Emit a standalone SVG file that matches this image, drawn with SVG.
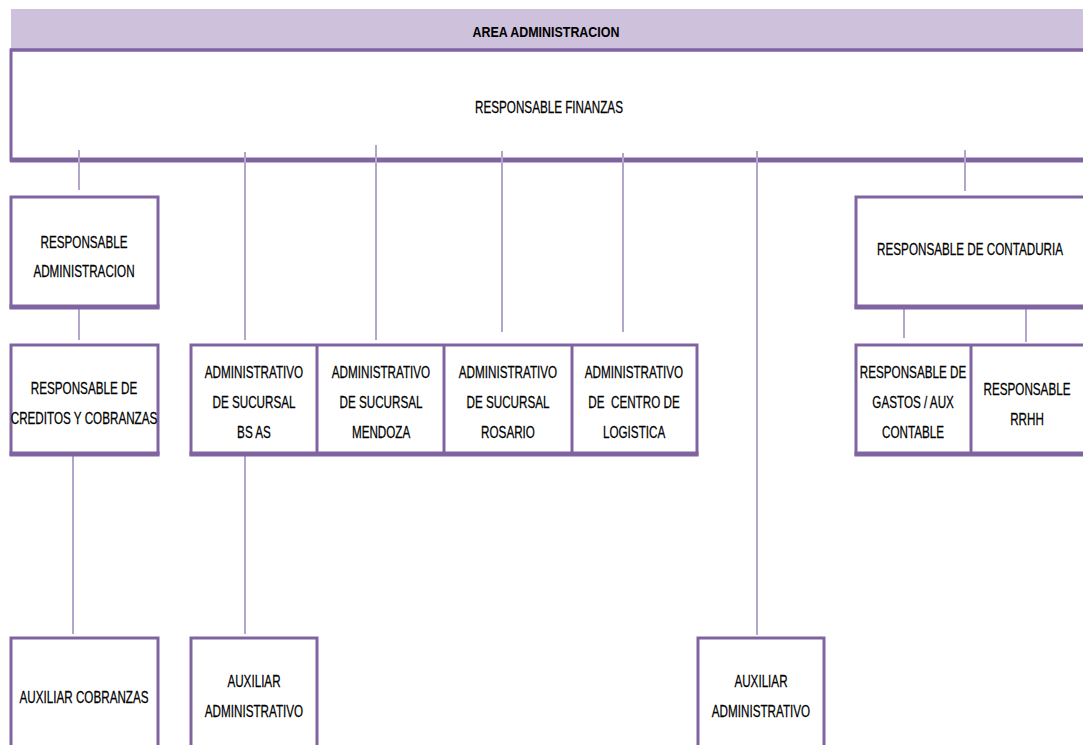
<svg xmlns="http://www.w3.org/2000/svg" width="1083" height="745" viewBox="0 0 1083 745">
  <style>
    .box { fill: #ffffff; stroke: #8064a2; stroke-width: 3; }
    .base { stroke: #8064a2; stroke-width: 5; }
    .div { stroke: #8064a2; stroke-width: 3; }
    .link { stroke: #b4a5cb; stroke-width: 2; fill: none; }
    text { font-family: "Liberation Sans", Arial, sans-serif; font-size: 16px; fill: #000000; stroke: #000000; stroke-width: 0.25;
           text-anchor: middle; transform-box: fill-box; transform-origin: center; transform: scaleX(0.73); }
    .bold { font-weight: bold; font-size: 15px; stroke-width: 0; transform: scaleX(0.83); }
  </style>
  <rect width="1083" height="745" fill="#ffffff"/>

  <!-- header band -->
  <g id="header">
    <rect x="11" y="9" width="1080" height="40" fill="#cec1dc"/>
    <text class="bold" x="546" y="37">AREA ADMINISTRACION</text>
  </g>

  <!-- top box -->
  <g id="finanzas">
    <rect x="11" y="50" width="1080" height="110" class="box" stroke-width="2"/>
    <line x1="10" y1="50" x2="1083" y2="50" class="div"/>
    <line x1="10" y1="160" x2="1083" y2="160" class="base" stroke-width="4"/>
    <text x="549" y="113">RESPONSABLE FINANZAS</text>
  </g>

  <!-- connectors -->
  <g id="connectors">
    <line x1="79" y1="150" x2="79" y2="190" class="link"/>
    <line x1="245" y1="152" x2="245" y2="340" class="link"/>
    <line x1="376" y1="145" x2="376" y2="340" class="link"/>
    <line x1="502" y1="151" x2="502" y2="332" class="link"/>
    <line x1="623" y1="153" x2="623" y2="332" class="link"/>
    <line x1="757" y1="151" x2="757" y2="635" class="link"/>
    <line x1="965" y1="150" x2="965" y2="191" class="link"/>
    <line x1="79" y1="300" x2="79" y2="340" class="link"/>
    <line x1="73" y1="445" x2="73" y2="634" class="link"/>
    <line x1="245" y1="445" x2="245" y2="634" class="link"/>
    <line x1="904" y1="298" x2="904" y2="338" class="link"/>
    <line x1="1026" y1="302" x2="1026" y2="342" class="link"/>
  </g>

  <g id="resp-admin">
    <rect x="11" y="197" width="147" height="110" class="box"/>
    <line x1="9.5" y1="307" x2="159.5" y2="307" class="base"/>
    <text x="84" y="248">RESPONSABLE</text>
    <text x="84" y="277">ADMINISTRACION</text>
  </g>

  <g id="creditos">
    <rect x="11" y="345" width="147" height="109" class="box"/>
    <line x1="9.5" y1="454" x2="159.5" y2="454" class="base"/>
    <text x="84" y="394">RESPONSABLE DE</text>
    <text x="84" y="424">CREDITOS Y COBRANZAS</text>
  </g>

  <g id="sucursales">
    <rect x="191" y="345" width="506" height="109" class="box"/>
    <line x1="189.5" y1="454" x2="698.5" y2="454" class="base"/>
    <line x1="317" y1="345" x2="317" y2="454" class="div"/>
    <line x1="444" y1="345" x2="444" y2="454" class="div"/>
    <line x1="572" y1="345" x2="572" y2="454" class="div"/>
    <text x="254" y="378">ADMINISTRATIVO</text>
    <text x="254" y="408">DE SUCURSAL</text>
    <text x="254" y="438">BS AS</text>
    <text x="381" y="378">ADMINISTRATIVO</text>
    <text x="381" y="408">DE SUCURSAL</text>
    <text x="381" y="438">MENDOZA</text>
    <text x="508" y="378">ADMINISTRATIVO</text>
    <text x="508" y="408">DE SUCURSAL</text>
    <text x="508" y="438">ROSARIO</text>
    <text x="634" y="378">ADMINISTRATIVO</text>
    <text x="634" y="408" xml:space="preserve">DE  CENTRO DE</text>
    <text x="634" y="438">LOGISTICA</text>
  </g>

  <g id="contaduria">
    <rect x="856" y="197" width="240" height="110" class="box"/>
    <line x1="854.5" y1="307" x2="1083" y2="307" class="base"/>
    <text x="970" y="255">RESPONSABLE DE CONTADURIA</text>
  </g>

  <g id="gastos-rrhh">
    <rect x="856" y="345" width="240" height="109" class="box"/>
    <line x1="854.5" y1="454" x2="1083" y2="454" class="base"/>
    <line x1="971" y1="345" x2="971" y2="454" class="div"/>
    <text x="913" y="378">RESPONSABLE DE</text>
    <text x="913" y="408">GASTOS / AUX</text>
    <text x="913" y="438">CONTABLE</text>
    <text x="1027" y="395">RESPONSABLE</text>
    <text x="1027" y="425">RRHH</text>
  </g>

  <g id="aux-cobranzas">
    <rect x="11" y="638" width="147" height="120" class="box"/>
    <text x="84" y="703">AUXILIAR COBRANZAS</text>
  </g>

  <g id="aux-admin-1">
    <rect x="191" y="638" width="126" height="120" class="box"/>
    <text x="254" y="687">AUXILIAR</text>
    <text x="254" y="717">ADMINISTRATIVO</text>
  </g>

  <g id="aux-admin-2">
    <rect x="698" y="638" width="126" height="120" class="box"/>
    <text x="761" y="687">AUXILIAR</text>
    <text x="761" y="717">ADMINISTRATIVO</text>
  </g>
</svg>
